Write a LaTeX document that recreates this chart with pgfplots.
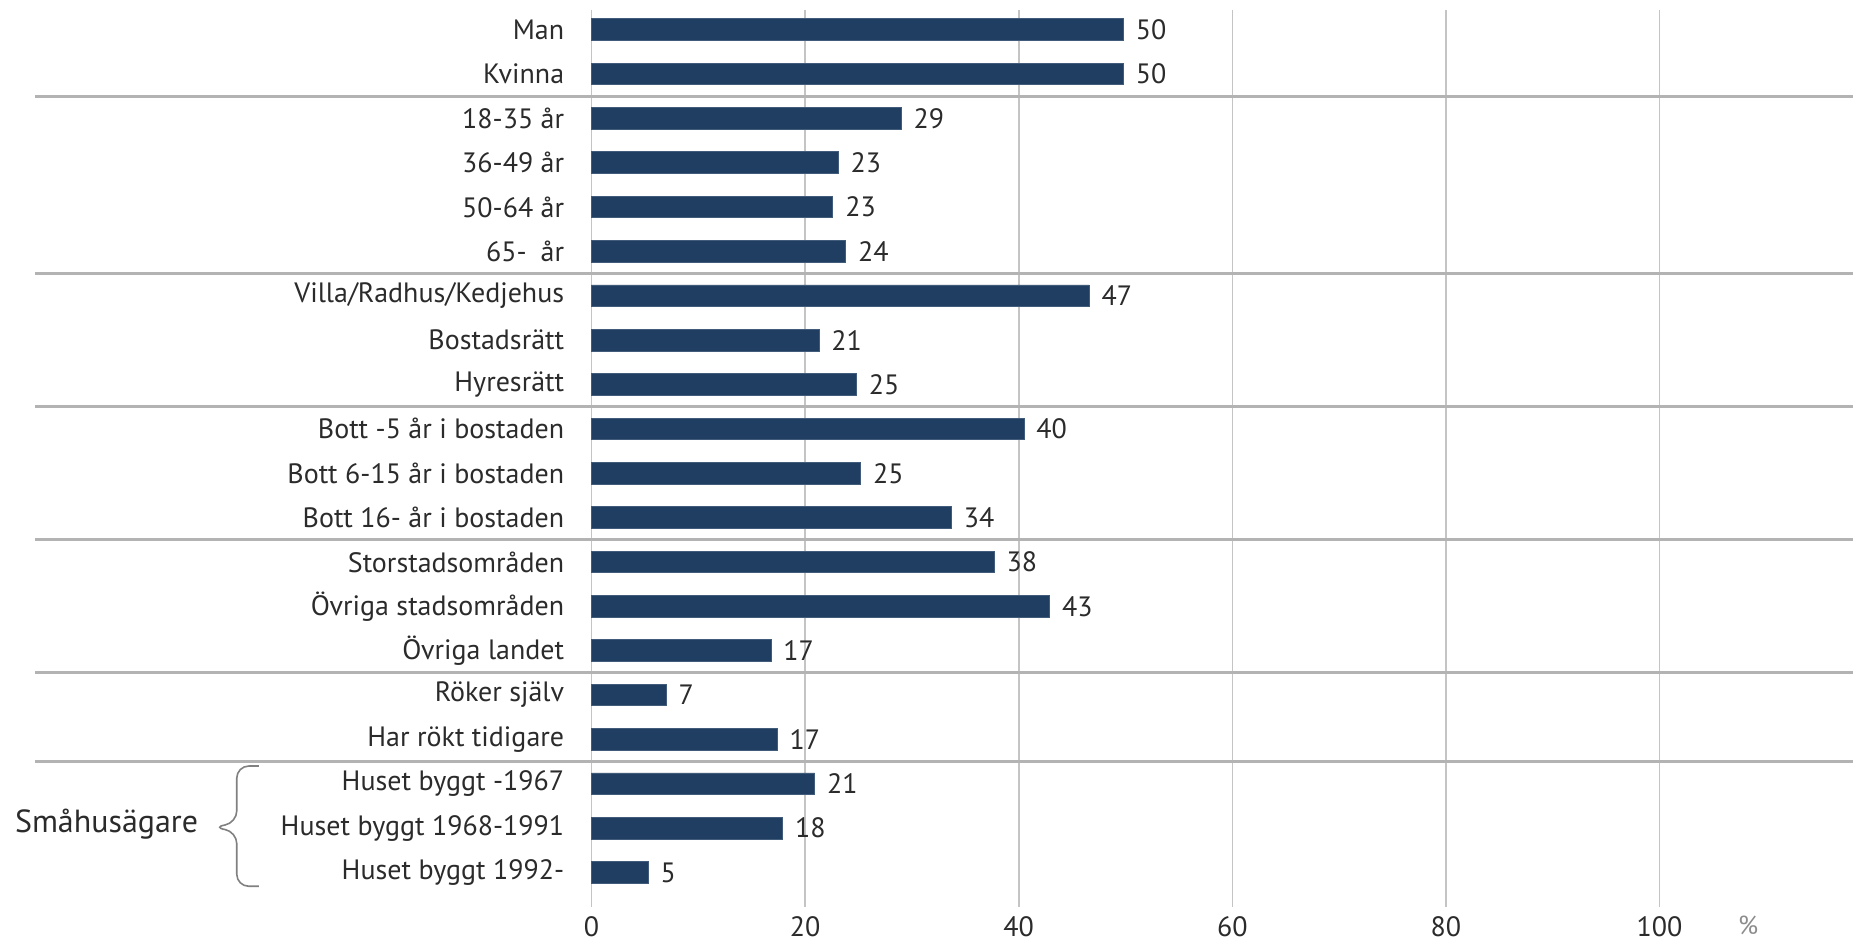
\documentclass[border=0pt]{standalone}
\usepackage{fontspec}
\setmainfont{PT Sans}
\usepackage{pgfplots}
\pgfplotsset{compat=1.18}
\usepackage{pgfplotstable}
\definecolor{barblue}{HTML}{1F3E62}
\definecolor{txt}{HTML}{2B2B2B}
\definecolor{sep}{HTML}{B3B3B3}
\definecolor{gridc}{HTML}{C4C4C4}
\definecolor{bracec}{HTML}{808080}

\pgfplotstableread{
y x lab
0 49.8 50
1 49.8 50
2 29.0 29
3 23.1 23
4 22.6 23
5 23.8 24
6 46.6 47
7 21.3 21
8 24.8 25
9 40.5 40
10 25.2 25
11 33.7 34
12 37.7 38
13 42.9 43
14 16.8 17
15 7.0 7
16 17.4 17
17 20.9 21
18 17.9 18
19 5.3 5
}\data

\begin{document}
\begin{tikzpicture}
\begin{axis}[
  scale only axis, width=631pt, height=449.1pt,
  xmin=0, xmax=118.06, ymin=-0.45, ymax=19.78, y dir=reverse,
  xbar, bar width=10.8pt, bar shift=0pt,
  axis line style={draw=none},
  xtick={0,20,...,100}, ytick={0,...,19},
  yticklabels={Man,Kvinna,18-35 år,36-49 år,50-64 år,65-\enspace år,Villa/Radhus/Kedjehus,Bostadsrätt,Hyresrätt,Bott -5 år i bostaden,Bott 6-15 år i bostaden,Bott 16- år i bostaden,Storstadsområden,Övriga stadsområden,Övriga landet,Röker själv,Har rökt tidigare,Huset byggt -1967,Huset byggt 1968-1991,Huset byggt 1992-},
  major tick length=0pt,
  xmajorgrids, major x grid style={gridc, line width=0.8pt},
  tick label style={txt, font=\fontsize{14}{16}\selectfont},
  yticklabel style={anchor=east, inner sep=0pt, xshift=-13.5pt},
  xticklabel style={anchor=center, inner sep=0pt, yshift=-10pt},
  /pgf/number format/assume math mode=true,
  clip=false,
  nodes near coords, point meta=explicit symbolic,
  nodes near coords style={anchor=west, inner sep=0pt, xshift=6pt, txt, font=\fontsize{14}{16}\selectfont},
]
\addplot[fill=barblue, draw=barblue!85!white, line width=0.4pt] table[x=x,y=y,meta=lab]{\data};
\draw[sep, line width=1.5pt] (axis cs:-52.1,1.5) -- (axis cs:118.06,1.5);
\draw[sep, line width=1.5pt] (axis cs:-52.1,5.5) -- (axis cs:118.06,5.5);
\draw[sep, line width=1.5pt] (axis cs:-52.1,8.5) -- (axis cs:118.06,8.5);
\draw[sep, line width=1.5pt] (axis cs:-52.1,11.5) -- (axis cs:118.06,11.5);
\draw[sep, line width=1.5pt] (axis cs:-52.1,14.5) -- (axis cs:118.06,14.5);
\draw[sep, line width=1.5pt] (axis cs:-52.1,16.5) -- (axis cs:118.06,16.5);
\draw[bracec, line width=0.8pt, rounded corners=6pt]
  (axis cs:-31.15,16.6) -- (axis cs:-33.21,16.6) -- (axis cs:-33.21,17.88)
  -- (axis cs:-35.45,17.98) -- (axis cs:-33.21,18.08) -- (axis cs:-33.21,19.31) -- (axis cs:-31.15,19.31);
\node[anchor=east, inner sep=0pt, txt, font=\fontsize{16}{19}\selectfont] at (axis cs:-36.8,17.91) {Småhusägare};
\node[anchor=center, inner sep=0pt, black!45, font=\fontsize{13}{15}\selectfont] at (axis cs:108.3,20.2) {\%};
\path[draw=none] (axis cs:-55.38,-0.667) rectangle (axis cs:118.06,20.55);
\end{axis}
\end{tikzpicture}
\end{document}
